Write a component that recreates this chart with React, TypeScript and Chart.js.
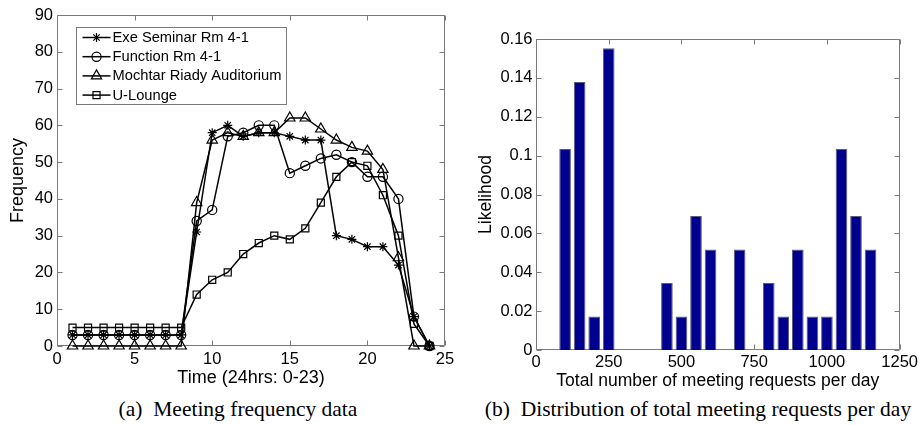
import React, { useEffect, useRef } from 'react';
import { Chart, registerables } from 'chart.js';

Chart.register(...registerables);

// ---------- data: left chart ----------
const hours = [1, 2, 3, 4, 5, 6, 7, 8, 9, 10, 11, 12, 13, 14, 15, 16, 17, 18, 19, 20, 21, 22, 23, 24];
const exeSeminar = [3, 3, 3, 3, 3, 3, 3, 3, 31, 58, 60, 57, 58, 58, 57, 56, 56, 30, 29, 27, 27, 22, 8, 0];
const functionRm = [3, 3, 3, 3, 3, 3, 3, 3, 34, 37, 57, 58, 60, 60, 47, 49, 51, 52, 50, 46, 46, 40, 8, 0];
const mochtarRiady = [0, 0, 0, 0, 0, 0, 0, 0, 39, 56, 58, 57, 58, 58, 62, 62, 59, 56, 54, 53, 48, 24, 0, 0];
const uLounge = [5, 5, 5, 5, 5, 5, 5, 5, 14, 18, 20, 25, 28, 30, 29, 32, 39, 46, 50, 49, 41, 30, 6, 0];
const seriesNames = ['Exe Seminar Rm 4-1', 'Function Rm 4-1', 'Mochtar Riady Auditorium', 'U-Lounge'];
const leftXTicks = [0, 5, 10, 15, 20, 25];
const leftYTicks = [0, 10, 20, 30, 40, 50, 60, 70, 80, 90];

// ---------- data: right chart ----------
const requestBins = [100, 150, 200, 250, 450, 500, 550, 600, 700, 800, 850, 900, 950, 1000, 1050, 1100, 1150];
const likelihood = [0.1034, 0.1379, 0.0172, 0.1552, 0.0345, 0.0172, 0.069, 0.0517, 0.0517, 0.0345, 0.0172, 0.0517, 0.0172, 0.0172, 0.1034, 0.069, 0.0517];
const rightXTicks = [0, 250, 500, 750, 1000, 1250];
const rightYTicks = [0, 0.02, 0.04, 0.06, 0.08, 0.1, 0.12, 0.14, 0.16];

const SANS = '"Liberation Sans", Arial, Helvetica, sans-serif';
const SERIF = '"Liberation Serif", "Times New Roman", Times, serif';
const AXIS_GRAY = '#7a7a7a';

const markerStyles = ['star', 'circle', 'triangle', 'rect'];
const markerRadius = [4.5, 4.6, 6, 5];

function drawMarker(ctx: CanvasRenderingContext2D, style: string, x: number, y: number, r: number) {
  ctx.beginPath();
  if (style === 'circle') {
    ctx.arc(x, y, r, 0, Math.PI * 2);
  } else if (style === 'triangle') {
    for (let i = 0; i < 3; i++) {
      const a = (i * 2 * Math.PI) / 3;
      const px = x + Math.sin(a) * r;
      const py = y - Math.cos(a) * r;
      if (i === 0) ctx.moveTo(px, py);
      else ctx.lineTo(px, py);
    }
    ctx.closePath();
  } else if (style === 'rect') {
    const s = r * Math.SQRT1_2;
    ctx.rect(x - s, y - s, 2 * s, 2 * s);
  } else if (style === 'star') {
    ctx.moveTo(x, y - r); ctx.lineTo(x, y + r);
    ctx.moveTo(x - r, y); ctx.lineTo(x + r, y);
    const d = r * Math.SQRT1_2;
    ctx.moveTo(x - d, y - d); ctx.lineTo(x + d, y + d);
    ctx.moveTo(x - d, y + d); ctx.lineTo(x + d, y - d);
  }
  ctx.stroke();
}

const boxPlugin = {
  id: 'matlabBox',
  beforeDatasetsDraw(chart: any) {
    const { ctx, chartArea: a, scales } = chart;
    const xs = scales.x;
    const ys = scales.y;
    const L = Math.round(a.left) + 0.5;
    const R = Math.round(a.right) - 0.5;
    const T = Math.round(a.top) + 0.5;
    const B = Math.round(a.bottom) - 0.5;
    ctx.save();
    ctx.strokeStyle = AXIS_GRAY;
    ctx.lineWidth = 1;
    ctx.beginPath();
    ctx.rect(L, T, R - L, B - T);
    for (const t of xs.ticks) {
      const px = Math.round(xs.getPixelForValue(t.value)) + 0.5;
      ctx.moveTo(px, B); ctx.lineTo(px, B - 5);
      ctx.moveTo(px, T); ctx.lineTo(px, T + 5);
    }
    for (const t of ys.ticks) {
      const py = Math.round(ys.getPixelForValue(t.value)) + 0.5;
      ctx.moveTo(L, py); ctx.lineTo(L + 5, py);
      ctx.moveTo(R, py); ctx.lineTo(R - 5, py);
    }
    ctx.stroke();
    ctx.restore();
  },
};

const legendPlugin = {
  id: 'boxLegend',
  afterDatasetsDraw(chart: any) {
    const { ctx, chartArea: a } = chart;
    const dsets = chart.data.datasets;
    ctx.save();
    ctx.font = `14.7px ${SANS}`;
    let maxW = 0;
    for (const d of dsets) maxW = Math.max(maxW, ctx.measureText(d.label).width);
    const left = Math.round(a.left + 18.5) + 0.5;
    const top = Math.round(a.top + 11.5) + 0.5;
    const w = Math.round(36 + maxW + 5);
    const h = 77;
    ctx.fillStyle = '#ffffff';
    ctx.fillRect(left, top, w, h);
    ctx.strokeStyle = AXIS_GRAY;
    ctx.lineWidth = 1;
    ctx.strokeRect(left, top, w, h);
    dsets.forEach((d: any, i: number) => {
      const cy = top + 10 + i * 19.2;
      ctx.strokeStyle = '#000';
      ctx.lineWidth = 1.5;
      ctx.beginPath();
      ctx.moveTo(left + 6, cy);
      ctx.lineTo(left + 34, cy);
      ctx.stroke();
      ctx.lineWidth = 1.2;
      drawMarker(ctx, markerStyles[i], left + 20, cy, markerRadius[i]);
      ctx.fillStyle = '#000';
      ctx.textBaseline = 'middle';
      ctx.textAlign = 'left';
      ctx.fillText(d.label, left + 36, cy + 0.5);
    });
    ctx.restore();
  },
};

function fixedTicks(values: number[]) {
  return (scale: any) => {
    scale.ticks = values.map((v) => ({ value: v }));
  };
}

function fmt(v: number) {
  return String(Number(Number(v).toFixed(4)));
}

function LeftChart() {
  const ref = useRef<HTMLCanvasElement | null>(null);
  useEffect(() => {
    if (!ref.current) return;
    const seriesValues = [exeSeminar, functionRm, mochtarRiady, uLounge];
    const chart = new Chart(ref.current, {
      type: 'line',
      data: {
        labels: hours,
        datasets: seriesValues.map((vals, i) => ({
          label: seriesNames[i],
          data: vals.map((v, j) => ({ x: hours[j], y: v })),
          borderColor: '#000',
          borderWidth: 1.5,
          backgroundColor: 'rgba(0,0,0,0)',
          pointStyle: markerStyles[i] as any,
          pointRadius: markerRadius[i],
          pointBorderWidth: 1.2,
          pointBorderColor: '#000',
          pointBackgroundColor: 'rgba(0,0,0,0)',
          tension: 0,
          clip: false as any,
          fill: false,
        })),
      },
      options: {
        animation: false,
        responsive: false,
        layout: { padding: { left: 0, top: 15, right: 15, bottom: 0 } },
        plugins: { legend: { display: false }, tooltip: { enabled: false } },
        scales: {
          x: {
            type: 'linear',
            min: 0,
            max: 25,
            afterBuildTicks: fixedTicks(leftXTicks),
            afterFit: (s: any) => { s.height = 49; },
            grid: { display: false, drawTicks: false },
            border: { display: false },
            ticks: { font: { size: 16.5, family: SANS }, color: '#000', padding: 4, maxRotation: 0, autoSkip: false, callback: (v: any) => fmt(v) },
            title: { display: true, text: 'Time (24hrs: 0-23)', font: { size: 18, family: SANS }, color: '#000', padding: { top: 0, bottom: 6 } },
          },
          y: {
            type: 'linear',
            min: 0,
            max: 90,
            afterBuildTicks: fixedTicks(leftYTicks),
            afterFit: (s: any) => { s.width = 57; },
            grid: { display: false, drawTicks: false },
            border: { display: false },
            ticks: { font: { size: 16.5, family: SANS }, color: '#000', padding: 4, autoSkip: false, callback: (v: any) => fmt(v) },
            title: { display: true, text: 'Frequency', font: { size: 18, family: SANS }, color: '#000', padding: { top: 7, bottom: 0 } },
          },
        },
      },
      plugins: [boxPlugin, legendPlugin],
    } as any);
    return () => chart.destroy();
  }, []);
  return <canvas ref={ref} width={460} height={395} style={{ display: 'block', position: 'absolute', left: 0, top: 0 }} />;
}

function RightChart() {
  const ref = useRef<HTMLCanvasElement | null>(null);
  useEffect(() => {
    if (!ref.current) return;
    const chart = new Chart(ref.current, {
      type: 'bar',
      data: {
        datasets: [
          {
            label: 'Likelihood',
            data: requestBins.map((b, i) => ({ x: b, y: likelihood[i] })),
            backgroundColor: '#00008f',
            borderColor: '#5a5a80',
            borderWidth: 1,
            barPercentage: 0.8,
            categoryPercentage: 1,
          },
        ],
      },
      options: {
        animation: false,
        responsive: false,
        layout: { padding: { left: 0, top: 39, right: 19, bottom: 0 } },
        plugins: { legend: { display: false }, tooltip: { enabled: false } },
        scales: {
          x: {
            type: 'linear',
            min: 0,
            max: 1250,
            offset: false,
            afterBuildTicks: fixedTicks(rightXTicks),
            afterFit: (s: any) => { s.height = 45; },
            grid: { display: false, drawTicks: false },
            border: { display: false },
            ticks: { font: { size: 16.5, family: SANS }, color: '#000', padding: 3, maxRotation: 0, autoSkip: false, callback: (v: any) => fmt(v) },
            title: { display: true, text: 'Total number of meeting requests per day', font: { size: 17.5, family: SANS }, color: '#000', padding: { top: 0, bottom: 3 } },
          },
          y: {
            type: 'linear',
            min: 0,
            max: 0.16,
            afterBuildTicks: fixedTicks(rightYTicks),
            afterFit: (s: any) => { s.width = 76; },
            grid: { display: false, drawTicks: false },
            border: { display: false },
            ticks: { font: { size: 16.5, family: SANS }, color: '#000', padding: 3.5, autoSkip: false, callback: (v: any) => fmt(v) },
            title: { display: true, text: 'Likelihood', font: { size: 17.5, family: SANS }, color: '#000', padding: { top: 16, bottom: 0 } },
          },
        },
      },
      plugins: [boxPlugin],
    } as any);
    return () => chart.destroy();
  }, []);
  return <canvas ref={ref} width={461} height={395} style={{ display: 'block', position: 'absolute', left: 460, top: 0 }} />;
}

export default function App() {
  const caption: React.CSSProperties = {
    position: 'absolute',
    top: 396,
    height: 26,
    lineHeight: '26px',
    fontFamily: SERIF,
    fontSize: 21.5,
    color: '#000',
    textAlign: 'center',
    whiteSpace: 'pre',
  };
  return (
    <div style={{ position: 'absolute', left: 0, top: 0, width: 921, height: 425, background: '#fff', overflow: 'hidden' }}>
      <LeftChart />
      <RightChart />
      <div style={{ ...caption, left: 18, width: 440 }}>{'(a)\u2002Meeting frequency data'}</div>
      <div style={{ ...caption, left: 458, width: 480 }}>{'(b)\u2002Distribution of total meeting requests per day'}</div>
    </div>
  );
}
